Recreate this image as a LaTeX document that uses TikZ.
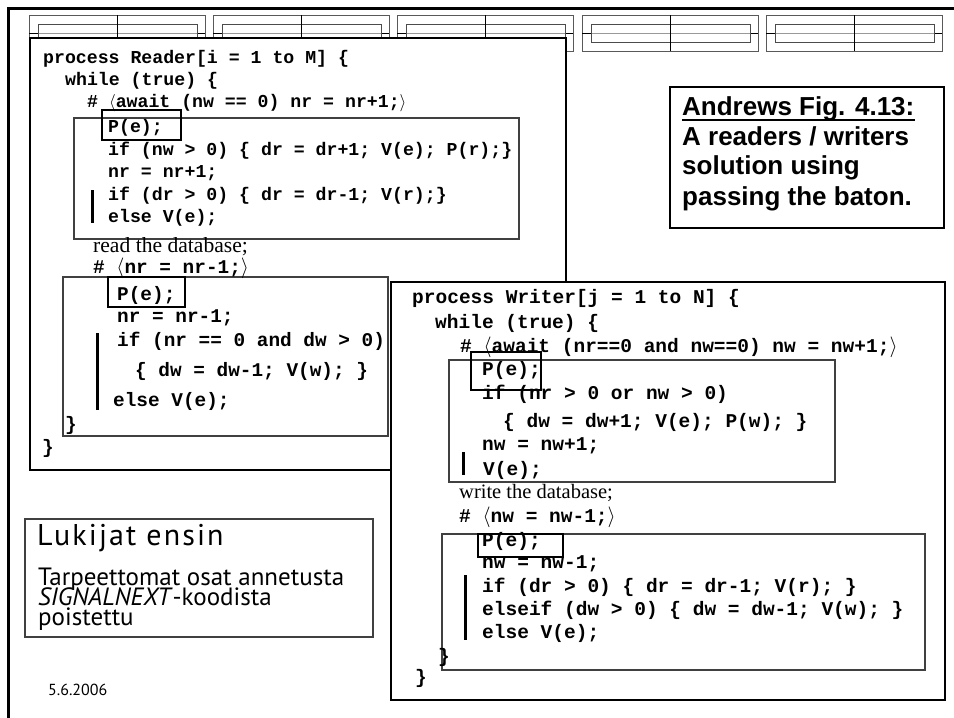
\documentclass[tikz,border=0pt]{standalone}
\usepackage{fontspec}
\setmonofont{Liberation Mono}
\newfontfamily\serifx{Liberation Serif}
\newfontfamily\arialx{Liberation Sans}
\newfontfamily\ptsans{PT Sans}
\newfontfamily\pttitle[LetterSpace=7]{PT Sans}
\newcommand\cfont[1]{\ttfamily\bfseries\fontsize{#1}{#1}\selectfont}
\tikzset{
  codeA/.style={font={\cfont{18.2}}, inner sep=0pt, anchor=base west},
  codeB/.style={font={\cfont{19.4}}, inner sep=0pt, anchor=base west},
  codeW/.style={font={\cfont{19.5}}, inner sep=0pt, anchor=base west},
  serifline/.style={font={\serifx\fontsize{#1}{#1}\selectfont}, inner sep=0pt, anchor=base west},
  andrews/.style={font={\arialx\bfseries\fontsize{26}{26}\selectfont}, inner sep=0pt, anchor=base west},
  bigbox/.style={draw=black, line width=2.6pt, fill=white},
  innerbox/.style={draw=black!75, line width=1.1pt},
  pbox/.style={draw=black, line width=2.8pt},
  bar/.style={draw=black, line width=3pt},
  tabouter/.style={draw=black!65, line width=0.9pt},
  tabinner/.style={draw=black!70, line width=0.9pt},
  tabmid/.style={draw=black!40, line width=0.9pt},
  tabdark/.style={draw=black, line width=0.9pt},
}
\begin{document}
\begin{tikzpicture}[x=1pt,y=-1pt]
\useasboundingbox (0,0) rectangle (954,718);
\fill[white] (0,0) rectangle (954,718);
% slide frame
\draw[line width=3pt] (954,8.5) -- (8.5,8.5) -- (8.5,718);
% top tables
\foreach \x in {29,213,397,582,766}{
  \draw[tabouter] (\x,15) rectangle (\x+176,51);
  \draw[tabmid] (\x+9,33) -- (\x+168,33);
  \draw[tabdark] (\x,33) -- (\x+9,33);
  \draw[tabdark] (\x+168,33) -- (\x+176,33);
  \draw[tabinner] (\x+9,24) rectangle (\x+168,42);
  \draw[tabdark] (\x+88,15) -- (\x+88,51);
}
% ---------------- Reader ----------------
\draw[bigbox] (30,38) rectangle (566,470);
\draw[innerbox] (74,118) rectangle (519,239);
\draw[pbox] (102,110) rectangle (181,140);
\draw[bar] (92,190) -- (92,223);
\draw[innerbox] (63,277) rectangle (388,436);
\draw[pbox] (108,277) rectangle (185,307);
\draw[bar] (97,333) -- (97,410);
\node[codeA] (r1) at (43,63) {process Reader[i = 1 to M] \{};
\node[codeA] (r2) at (65,85) {while (true) \{};
\node[codeA] (r3) at (87,107) {\# $\langle$await (nw == 0) nr = nr+1;$\rangle$};
\node[codeA] (r4) at (108,132) {P(e);};
\node[codeA] (r5) at (108,155) {if (nw > 0) \{ dr = dr+1; V(e); P(r);\}};
\node[codeA] (r6) at (108,177) {nr = nr+1;};
\node[codeA] (r7) at (108,200) {if (dr > 0) \{ dr = dr-1; V(r);\}};
\node[codeA] (r8) at (108,222) {else V(e);};
\node[serifline=21.6] (r9) at (93,252) {read the database;};
\node[codeB] (r10) at (93,273) {\# $\langle$nr = nr-1;$\rangle$};
\node[codeB] (r11) at (117,300) {P(e);};
\node[codeB] (r12) at (117,322) {nr = nr-1;};
\node[codeB] (r13) at (117,346) {if (nr == 0 and dw > 0)};
\node[codeB] (r14) at (135,376) {\{ dw = dw-1; V(w); \}};
\node[codeB] (r15) at (113,406) {else V(e);};
\node[codeB] (r16) at (65,430) {\}};
\node[codeB] (r17) at (42,453) {\}};
% ---------------- Writer ----------------
\draw[bigbox] (391,282) rectangle (945,700);
\draw[innerbox] (449,360) rectangle (835,482);
\draw[pbox] (471,352) rectangle (541,390);
\draw[bar] (463,452) -- (463,475);
\draw[innerbox] (442,534) rectangle (925,670);
\draw[pbox] (478,534) rectangle (563,557);
\draw[bar] (465,575) -- (465,640);
\node[codeW] (w1) at (412,303) {process Writer[j = 1 to N] \{};
\node[codeW] (w2) at (435,328) {while (true) \{};
\node[codeW] (w3) at (460,352) {\# $\langle$await (nr==0 and nw==0) nw = nw+1;$\rangle$};
\node[codeW] (w4) at (482,375) {P(e);};
\node[codeW] (w5) at (482,399) {if (nr > 0 or nw > 0)};
\node[codeW] (w6) at (503,427) {\{ dw = dw+1; V(e); P(w); \}};
\node[codeW] (w7) at (482,450) {nw = nw+1;};
\node[codeW] (w8) at (483,475) {V(e);};
\node[serifline=20.5] (w9) at (459,498) {write the database;};
\node[codeW] (w10) at (459,522) {\# $\langle$nw = nw-1;$\rangle$};
\node[codeW] (w11) at (482,546) {P(e);};
\node[codeW] (w12) at (482,568) {nw = nw-1;};
\node[codeW] (w13) at (482,592) {if (dr > 0) \{ dr = dr-1; V(r); \}};
\node[codeW] (w14) at (482,615) {elseif (dw > 0) \{ dw = dw-1; V(w); \}};
\node[codeW] (w15) at (482,638) {else V(e);};
\node[codeW] (w16) at (438,662) {\}};
\node[codeW] (w17) at (415,683) {\}};
% ---------------- Andrews box ----------------
\draw[draw=black, line width=2pt] (670,87) rectangle (944,228);
\node[andrews] (a1) at (682,115) {Andrews Fig. 4.13:};
\draw[line width=1.6pt] ([yshift=-5pt]a1.base west) -- ([yshift=-5pt]a1.base east);
\node[andrews] (a2) at (682,145) {A readers / writers};
\node[andrews] (a3) at (682,174) {solution using};
\node[andrews] (a4) at (682,205) {passing the baton.};
% ---------------- Lukijat box ----------------
\draw[draw=black!75, line width=1.1pt] (25,519) rectangle (373,637);
\node[font={\pttitle\fontsize{30}{30}\selectfont}, inner sep=0pt, anchor=base west] (l1) at (37,545) {Lukijat ensin};
\node[font={\ptsans\fontsize{25}{25}\selectfont}, inner sep=0pt, anchor=base west] (l2) at (38,585) {Tarpeettomat osat annetusta};
\node[font={\ptsans\fontsize{25}{25}\selectfont}, inner sep=0pt, anchor=base west] (l3) at (38,605) {\textit{SIGNALNEXT}-koodista};
\node[font={\ptsans\fontsize{25}{25}\selectfont}, inner sep=0pt, anchor=base west] (l4) at (38,625) {poistettu};
\node[font={\ptsans\fontsize{16}{16}\selectfont}, inner sep=0pt, anchor=base west] (date) at (48,695) {5.6.2006};
\end{tikzpicture}
\end{document}
